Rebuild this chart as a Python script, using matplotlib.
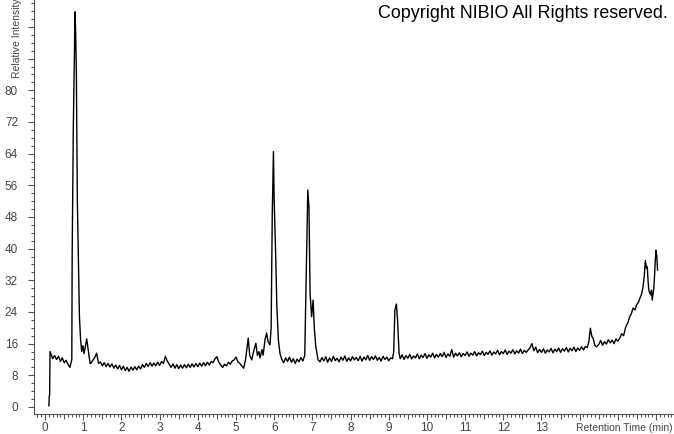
import matplotlib
matplotlib.use("Agg")
import matplotlib.pyplot as plt
from matplotlib.ticker import MultipleLocator
import numpy as np

plt.rcParams['font.family'] = ['Liberation Sans', 'DejaVu Sans']

# --- chromatogram (time in min, relative intensity) ---
# injection step + solvent peak
rt_start = [0.10, 0.11, 0.12, 0.13]
int_start = [0.3, 2.8, 3.0, 14.0]

# noisy baseline pieces: (start time, 0.05 min spacing, values)
base_a_t0 = 0.15
base_a = [13.5, 12.2, 13.0, 12.0, 12.8, 11.5, 12.4, 11.2, 11.8, 10.8, 10.0, 12.0]

rt_peak1 = [0.71, 0.74, 0.77, 0.785, 0.80, 0.82, 0.845, 0.88, 0.90, 0.93, 0.96,
            0.99, 1.02, 1.05, 1.09, 1.12, 1.15, 1.18]
int_peak1 = [38.8, 70.8, 90.0, 99.8, 95.0, 84.0, 52.0, 33.8, 22.8, 17.0, 14.0,
             15.5, 13.5, 15.0, 17.2, 15.0, 13.0, 11.0]

base_b_t0 = 1.20
base_b = [11.0, 11.8, 12.5, 13.6, 11.0, 11.4, 10.4, 11.2, 10.2, 11.0,
          10.1, 10.9, 9.8, 10.6, 9.6, 10.5, 9.4, 10.3, 9.2, 10.0,
          9.0, 10.1, 9.3, 10.2, 9.4, 10.3, 9.6, 10.7, 10.0, 11.0,
          10.2, 11.2, 10.3, 11.1, 10.4, 11.3, 10.5, 11.5, 11.0, 12.8,
          11.6, 10.8, 10.0, 10.9, 9.8, 10.7, 9.7, 10.6, 9.8, 10.7,
          9.9, 10.8, 10.0, 10.9, 10.1, 11.0, 10.2, 11.1, 10.3, 11.2,
          10.4, 11.3, 10.6, 11.5, 11.2, 12.2, 12.7, 11.3, 10.6, 10.0,
          10.8, 10.4, 11.3, 10.8, 11.6, 11.9, 12.6, 11.4, 11.0, 10.4,
          9.8]

rt_peak2 = [5.25, 5.32, 5.36, 5.41, 5.46, 5.52, 5.56, 5.60, 5.63, 5.68, 5.71,
            5.76, 5.80, 5.84, 5.89, 5.92, 5.95, 5.98, 6.00, 6.04, 6.07, 6.11, 6.15]
int_peak2 = [12.0, 17.4, 13.0, 11.9, 14.0, 16.1, 13.0, 14.0, 12.4, 14.5, 13.1,
             17.0, 18.7, 16.5, 15.7, 20.0, 49.0, 64.5, 52.0, 38.0, 25.3, 16.9, 13.6]

base_c_t0 = 6.20
base_c = [12.0, 11.2, 12.4, 11.5, 12.6, 11.3, 12.2, 11.0, 12.1, 11.4, 12.5, 11.6, 13.0]

rt_peak3 = [6.83, 6.88, 6.91, 6.94, 6.98, 7.02, 7.05, 7.09, 7.15]
int_peak3 = [28.8, 54.8, 50.6, 28.8, 22.8, 27.0, 20.0, 15.2, 11.9]

base_d_t0 = 7.20
base_d = [11.4, 12.5, 11.6, 12.7, 11.3, 12.4, 11.5, 12.8, 11.7, 12.3,
          11.4, 12.6, 11.8, 12.9, 11.5, 12.4, 11.6, 12.7, 11.9, 12.5,
          11.7, 12.8, 11.6, 12.6, 11.9, 13.0, 11.8, 12.7, 12.0, 12.9,
          11.8, 12.5, 11.6, 12.8, 12.0, 12.6, 11.7, 12.4, 12.2]

rt_peak4 = [9.13, 9.16, 9.20, 9.23, 9.27]
int_peak4 = [14.0, 24.5, 26.0, 22.0, 13.6]

base_e_t0 = 9.30
base_e = [12.2, 13.2, 12.0, 13.0, 12.3, 13.3, 12.1, 12.9, 12.4, 13.4,
          12.2, 13.1, 12.5, 13.5, 12.3, 13.2, 12.6, 13.6, 12.4, 13.3,
          12.6, 13.5, 12.7, 13.8, 12.5, 13.4, 12.8, 14.5, 12.6, 13.6,
          12.9, 13.7, 12.7, 13.5, 13.0, 13.9, 12.8, 13.6, 13.1, 14.0,
          12.9, 13.7, 13.2, 14.1, 13.0, 13.8, 13.3, 14.2, 13.1, 13.9,
          13.4, 14.3, 13.2, 14.0, 13.5, 14.4, 13.3, 14.1, 13.6, 14.5,
          13.4, 14.2, 13.6, 14.6, 13.5, 14.3, 13.8, 14.4, 15.0, 16.0,
          14.2, 15.1, 13.7, 14.5, 13.8, 14.7, 13.6, 14.4, 13.9, 14.8,
          13.7, 14.6, 14.0, 14.9, 13.8, 14.7, 14.1, 15.0, 13.9, 14.8,
          14.2, 15.1, 14.0, 14.9, 14.3, 15.2, 14.4, 15.3, 15.0]

rt_peak5 = [14.24, 14.28, 14.32, 14.35, 14.40, 14.44]
int_peak5 = [16.5, 19.9, 17.8, 17.4, 15.5, 15.2]

base_f_t0 = 14.50
base_f = [15.8, 16.8, 15.6, 16.5, 15.9, 17.0, 16.2, 16.9, 16.0, 17.2, 16.6]

rt_tail = [15.05, 15.10, 15.15, 15.20, 15.23, 15.27, 15.31, 15.35, 15.40, 15.45,
           15.49, 15.54, 15.58, 15.62, 15.66, 15.69, 15.72, 15.75, 15.77, 15.79,
           15.81, 15.86, 15.88, 15.90, 15.92, 15.94, 15.96, 15.98, 16.00, 16.02, 16.04]
int_tail = [17.4, 18.5, 18.0, 20.0, 20.7, 21.5, 22.8, 23.5, 25.0, 24.5,
            25.8, 26.5, 27.5, 28.5, 30.4, 33.0, 37.0, 35.0, 35.4, 32.0,
            29.5, 28.3, 29.5, 27.0, 28.5, 30.0, 33.0, 37.0, 39.6, 38.0, 34.6]

y_major = list(range(0, 104, 8))
x_major = list(range(0, 17))


def base(t0, vals):
    return list(t0 + 0.05 * np.arange(len(vals))), vals


pieces = [(rt_start, int_start), base(base_a_t0, base_a), (rt_peak1, int_peak1),
          base(base_b_t0, base_b), (rt_peak2, int_peak2), base(base_c_t0, base_c),
          (rt_peak3, int_peak3), base(base_d_t0, base_d), (rt_peak4, int_peak4),
          base(base_e_t0, base_e), (rt_peak5, int_peak5), base(base_f_t0, base_f),
          (rt_tail, int_tail)]
rt = np.concatenate([p[0] for p in pieces])
sig = np.concatenate([p[1] for p in pieces])

fig = plt.figure(figsize=(6.74, 4.34), dpi=100)
ax = fig.add_axes([34 / 674, 20 / 434, 640 / 674, 414 / 434])
ax.plot(rt, sig, color='black', lw=1.0)

ax.set_xlim(-0.29, 16.47)
ax.set_ylim(-1.77, 102.8)
for s in ['top', 'right']:
    ax.spines[s].set_visible(False)
ax.spines['left'].set_color('#555555')
ax.spines['bottom'].set_color('#555555')

ax.set_xticks(x_major)
ax.set_xticklabels([str(v) if v <= 13 else '' for v in x_major])
ax.set_yticks(y_major)
ax.set_yticklabels([str(v) if v <= 80 else '' for v in y_major])
ax.xaxis.set_minor_locator(MultipleLocator(0.1))
ax.yaxis.set_minor_locator(MultipleLocator(2))
ax.tick_params(which='major', length=4.5, width=0.8, color='#555555',
               labelsize=8.5, labelcolor='#444444')
ax.tick_params(axis='y', which='major', pad=7)
ax.tick_params(axis='x', which='major', pad=1.2)
ax.tick_params(which='minor', length=2.2, width=0.8, color='#555555')

# half-minute ticks a bit longer
sec = ax.secondary_xaxis('bottom')
sec.set_xticks(np.arange(0.5, 16.5, 1))
sec.tick_params(length=3.3, width=0.8, color='#555555', labelbottom=False)
sec.spines['bottom'].set_visible(False)

fig.text(673 / 674, 1 - 428 / 434, 'Retention Time (min)', ha='right', va='center',
         fontsize=7.5, color='#444444')
fig.text(17 / 674, 1 - 78 / 434, 'Relative Intensity', rotation=90, ha='center',
         va='bottom', fontsize=7.5, color='#444444')
fig.text(668 / 674, 1 - 14 / 434, 'Copyright NIBIO All Rights reserved.', ha='right',
         va='center', fontsize=12.9, color='black')

fig.savefig('out.png', dpi=100)
